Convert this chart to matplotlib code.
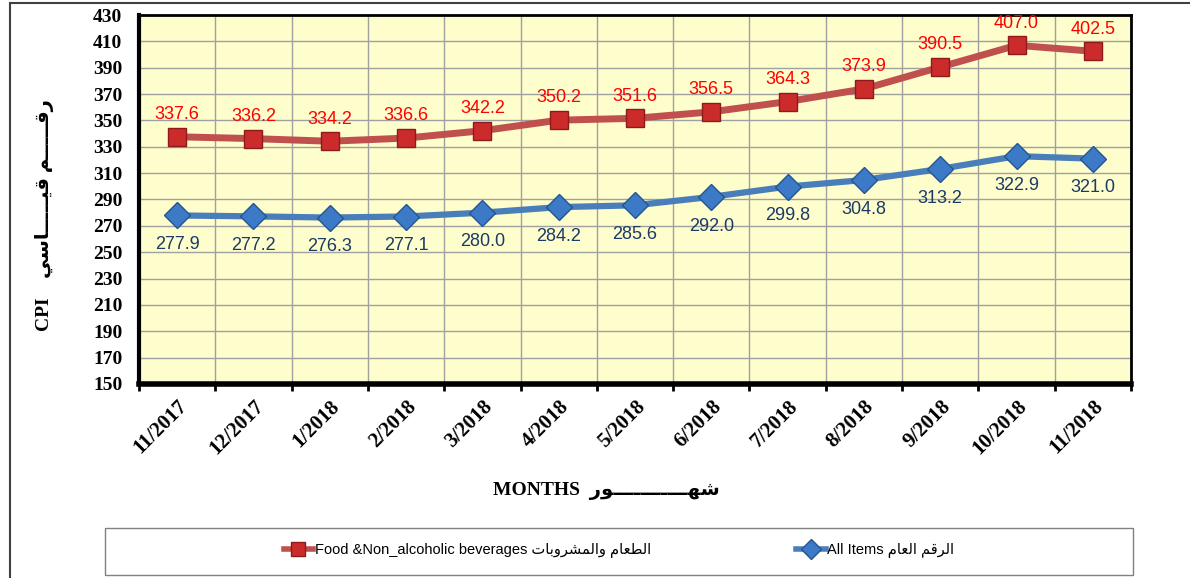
import numpy as np
import matplotlib
matplotlib.use('Agg')
from matplotlib import pyplot as plt
from matplotlib.patches import Rectangle

months = ['11/2017', '12/2017', '1/2018', '2/2018', '3/2018', '4/2018', '5/2018',
          '6/2018', '7/2018', '8/2018', '9/2018', '10/2018', '11/2018']
food = [337.6, 336.2, 334.2, 336.6, 342.2, 350.2, 351.6, 356.5, 364.3, 373.9, 390.5, 407.0, 402.5]
all_items = [277.9, 277.2, 276.3, 277.1, 280.0, 284.2, 285.6, 292.0, 299.8, 304.8, 313.2, 322.9, 321.0]

food_label_ar = 'الطعام والمشروبات'
all_label_ar = 'الرقم العام'
ylabel_ar = 'رقـــــم قيـــــاسي'
xlabel_ar = 'شهـــــــــــور'

# arabic presentation forms: isolated, final, initial, medial
FORMS = {
    'ا': ('\uFE8D', '\uFE8E'),
    'ب': ('\uFE8F', '\uFE90', '\uFE91', '\uFE92'),
    'ت': ('\uFE95', '\uFE96', '\uFE97', '\uFE98'),
    'ر': ('\uFEAD', '\uFEAE'),
    'س': ('\uFEB1', '\uFEB2', '\uFEB3', '\uFEB4'),
    'ش': ('\uFEB5', '\uFEB6', '\uFEB7', '\uFEB8'),
    'ط': ('\uFEC1', '\uFEC2', '\uFEC3', '\uFEC4'),
    'ع': ('\uFEC9', '\uFECA', '\uFECB', '\uFECC'),
    'ق': ('\uFED5', '\uFED6', '\uFED7', '\uFED8'),
    'ل': ('\uFEDD', '\uFEDE', '\uFEDF', '\uFEE0'),
    'م': ('\uFEE1', '\uFEE2', '\uFEE3', '\uFEE4'),
    'ه': ('\uFEE9', '\uFEEA', '\uFEEB', '\uFEEC'),
    'و': ('\uFEED', '\uFEEE'),
    'ي': ('\uFEF1', '\uFEF2', '\uFEF3', '\uFEF4'),
}
TATWEEL = 'ـ'


def joins_forward(ch):
    return ch == TATWEEL or (ch in FORMS and len(FORMS[ch]) == 4)


def shape(txt):
    out = []
    for i, ch in enumerate(txt):
        if ch not in FORMS:
            out.append(ch)
            continue
        f = FORMS[ch]
        prev = txt[i - 1] if i > 0 else ''
        nxt = txt[i + 1] if i + 1 < len(txt) else ''
        jp = joins_forward(prev)
        jn = len(f) == 4 and (nxt in FORMS or nxt == TATWEEL)
        if jp and jn:
            out.append(f[3])
        elif jp:
            out.append(f[1])
        elif jn:
            out.append(f[2])
        else:
            out.append(f[0])
    return ''.join(reversed(out))


W, H = 1190, 578
fig = plt.figure(figsize=(W / 100, H / 100), dpi=100)
ax = fig.add_axes([139 / W, 1 - 384 / H, (1131 - 139) / W, (384 - 15) / H])
ax.set_facecolor('#FEFDCC')

x = np.arange(len(months))
ax.plot(x, food, color='#C0504D', lw=5, marker='s', ms=13, mfc='#CC2B2B', mec='#8C1C1C', mew=1,
        solid_capstyle='round', zorder=3)
ax.plot(x, all_items, color='#4A7EBB', lw=4.5, marker='D', ms=13, mfc='#3C7AC8', mec='#25558F', mew=1,
        solid_capstyle='round', zorder=3)

for xi, v in zip(x, food):
    ax.annotate('%.1f' % v, (xi, v), xytext=(0, 16), textcoords='offset points', ha='center', va='center',
                color='#FF0000', fontsize=13, family='Liberation Sans')
for xi, v in zip(x, all_items):
    ax.annotate('%.1f' % v, (xi, v), xytext=(0, -21), textcoords='offset points', ha='center', va='center',
                color='#1B3A66', fontsize=13, family='Liberation Sans')

ax.set_ylim(150, 430)
ax.set_yticks(np.arange(150, 431, 20))
ax.set_xlim(-0.5, len(months) - 0.5)
ax.set_xticks(np.arange(-0.5, len(months), 1))
ax.set_xticklabels([])
ax.set_xticks(x, minor=True)
ax.set_xticklabels(months, minor=True, rotation=45, ha='right', rotation_mode='anchor',
                   fontsize=15, fontweight='bold', family='Liberation Serif')
ax.tick_params(axis='x', which='minor', length=0, pad=9)
ax.tick_params(axis='x', which='major', length=5, width=2, direction='out')
ax.tick_params(axis='y', length=0, pad=12)
for lab in ax.get_yticklabels():
    lab.set_fontsize(14)
    lab.set_fontweight('bold')
    lab.set_family('Liberation Serif')
ax.grid(True, which='major', color='#A0A0A0', lw=1)
ax.set_axisbelow(True)
ax.spines['left'].set_linewidth(3)
ax.spines['bottom'].set_linewidth(4)
ax.spines['top'].set_linewidth(2)
ax.spines['right'].set_linewidth(2)

fig.text(45 / W, 1 - 215 / H, 'CPI    ' + shape(ylabel_ar), rotation=90, ha='center', va='center',
         fontsize=14, fontweight='bold', family=['Liberation Serif', 'DejaVu Sans'])
fig.text(606 / W, 1 - 491 / H, 'MONTHS  ' + shape(xlabel_ar), ha='center', va='center',
         fontsize=14, fontweight='bold', family=['Liberation Serif', 'DejaVu Sans'])

# outer chart frame and legend frame
fig.patches.append(Rectangle((10 / W, -0.1), 1.2, 1.1 - 3 / H, transform=fig.transFigure,
                             fill=False, ec='#404040', lw=1.5))
fig.patches.append(Rectangle((105 / W, 1 - 575 / H), (1133 - 105) / W, 47 / H, transform=fig.transFigure,
                             fill=False, ec='#808080', lw=1))

h1, = ax.plot([], [], color='#C0504D', lw=4, marker='s', ms=10, mfc='#CC2B2B', mec='#8C1C1C')
h2, = ax.plot([], [], color='#4A7EBB', lw=4, marker='D', ms=10, mfc='#3C7AC8', mec='#25558F')
fig.legend([h1, h2], ['Food &Non_alcoholic beverages ' + shape(food_label_ar),
                      'All Items ' + shape(all_label_ar)],
           loc='center', bbox_to_anchor=(619 / W, 1 - 551 / H), ncol=2, frameon=False,
           handlelength=2, handletextpad=0.1, columnspacing=10,
           prop={'family': ['Liberation Sans', 'DejaVu Sans'], 'size': 10.5})

fig.savefig('out.png', dpi=100)
